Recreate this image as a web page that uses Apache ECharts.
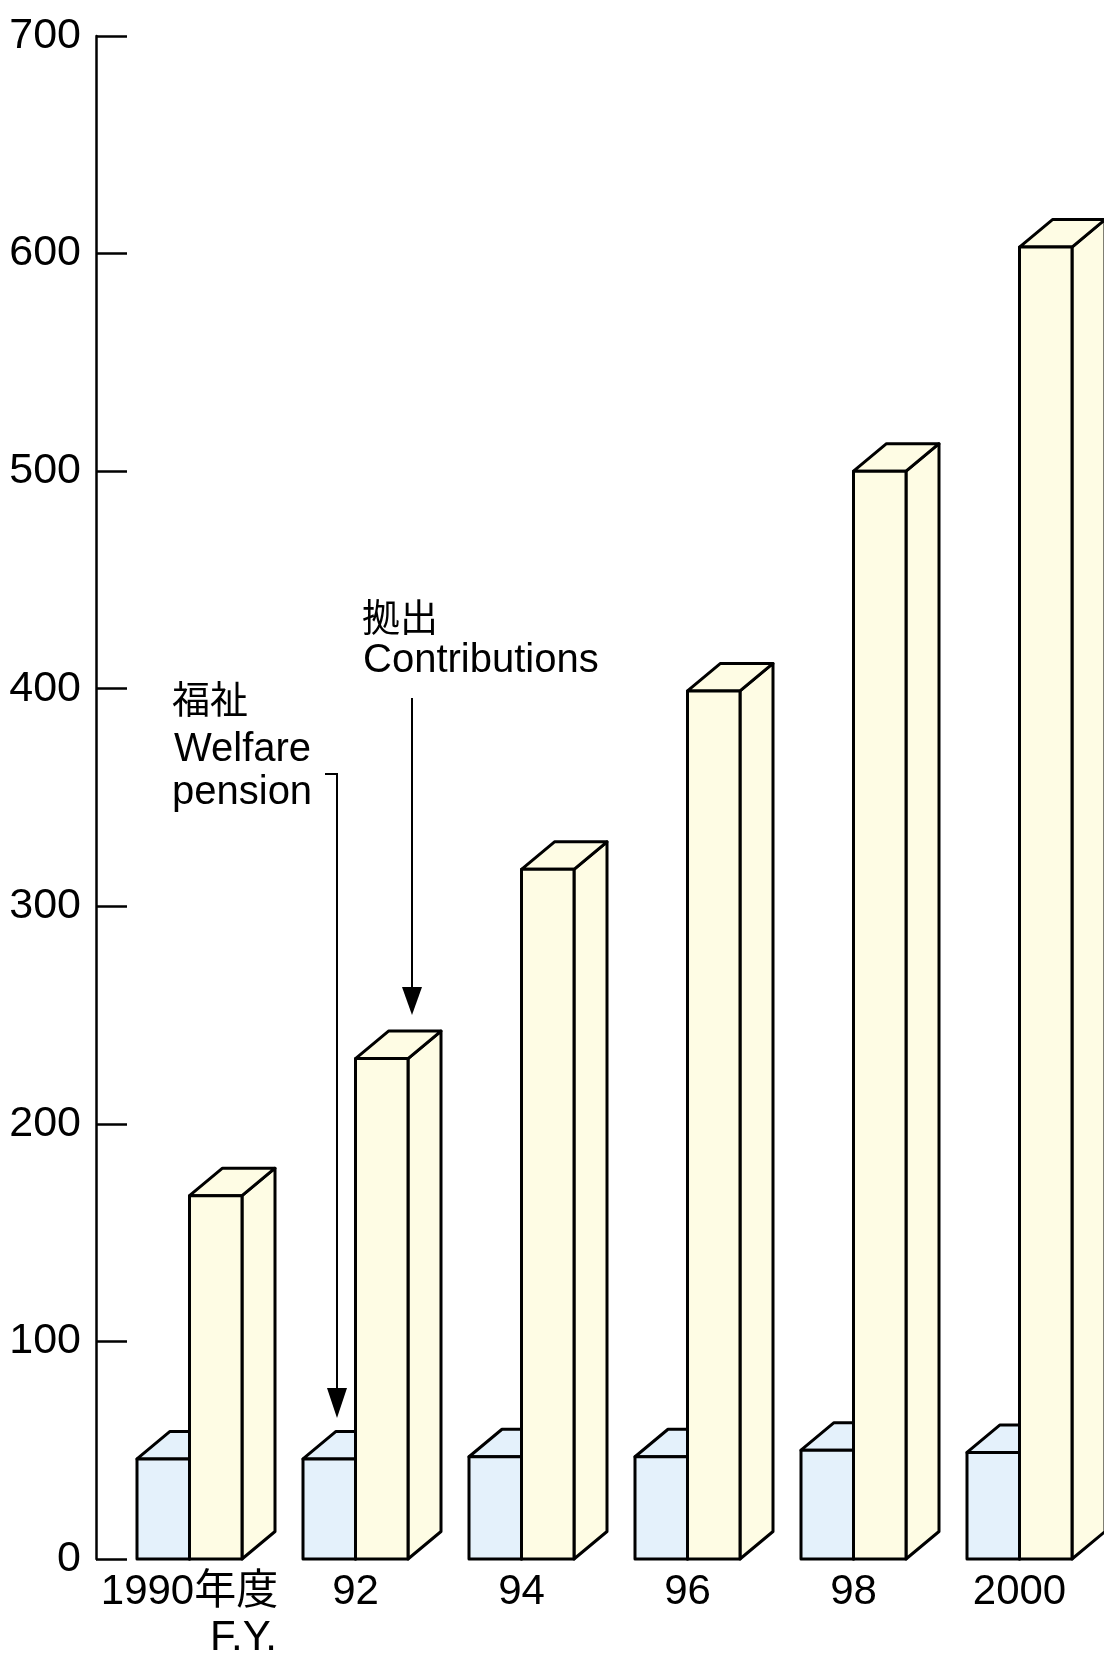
<!DOCTYPE html>
<html>
<head>
<meta charset="utf-8">
<script src="https://cdn.jsdelivr.net/npm/echarts@6/dist/echarts.min.js"></script>
<style>
html,body{margin:0;padding:0;background:#fff;overflow:hidden;}
#chart{width:1104px;height:1655px;}
</style>
</head>
<body>
<div id="chart"></div>
<script>
const categories = ['1990年度', '92', '94', '96', '98', '2000'];
const welfarePension = [46, 46, 47, 47, 50, 49];
const contributions = [167, 230, 317, 399, 500, 603];
const yTicks = [0, 100, 200, 300, 400, 500, 600, 700];

const FONT = "'Liberation Sans','Noto Sans CJK JP',sans-serif";
const CJK = "'Noto Sans CJK JP',sans-serif";

function makeRender(side, color) {
  return function (params, api) {
    const i = api.value(0), v = api.value(1);
    const base = api.coord([i, 0]);
    const top = api.coord([i, v]);
    const cx = base[0];
    const w = 52.5, dx = 33, dy = 27.5;
    const x0 = side === 'left' ? cx - w : cx;
    const x1 = x0 + w;
    const y0 = base[1], y1 = top[1];
    const style = { fill: color, stroke: '#000', lineWidth: 3, lineJoin: 'round' };
    return {
      type: 'group',
      children: [
        { type: 'polygon', shape: { points: [[x1, y0], [x1 + dx, y0 - dy], [x1 + dx, y1 - dy], [x1, y1]] }, style: style },
        { type: 'polygon', shape: { points: [[x0, y1], [x0 + dx, y1 - dy], [x1 + dx, y1 - dy], [x1, y1]] }, style: style },
        { type: 'rect', shape: { x: x0, y: y1, width: w, height: y0 - y1 }, style: style }
      ]
    };
  };
}

const chart = echarts.init(document.getElementById('chart'), null, { renderer: 'canvas' });
chart.setOption({
  animation: false,
  backgroundColor: '#fff',
  grid: { left: 106.5, right: 1.5, top: 36, bottom: 96, containLabel: false, outerBoundsMode: 'none' },
  xAxis: {
    type: 'category',
    data: categories,
    axisLine: { show: false },
    axisTick: { show: false },
    axisLabel: {
      margin: 10,
      fontSize: 42,
      fontFamily: FONT,
      color: '#000',
      interval: 0,
      lineHeight: 46,
      formatter: function (val, idx) {
        return idx === 0 ? val + '\n{fy|F.Y.}' : val;
      },
      rich: {
        fy: { fontSize: 42, fontFamily: FONT, color: '#000', padding: [0, 0, 0, 108], lineHeight: 46 }
      }
    }
  },
  yAxis: {
    type: 'value',
    min: yTicks[0],
    max: yTicks[yTicks.length - 1],
    interval: 100,
    offset: 10.5,
    axisLine: { show: true, lineStyle: { color: '#000', width: 2.5 } },
    axisTick: { show: true, inside: true, length: 31, lineStyle: { color: '#000', width: 2.5 } },
    splitLine: { show: false },
    axisLabel: {
      margin: 15,
      fontSize: 43,
      fontFamily: FONT,
      color: '#000',
      padding: [0, 0, 20, 0]
    }
  },
  series: [
    {
      type: 'custom',
      name: '福祉 Welfare pension',
      renderItem: makeRender('left', '#E4F1FB'),
      data: welfarePension.map((v, i) => [i, v]),
      z: 2
    },
    {
      type: 'custom',
      name: '拠出 Contributions',
      renderItem: makeRender('right', '#FEFCE4'),
      data: contributions.map((v, i) => [i, v]),
      z: 3
    }
  ],
  graphic: [
    { type: 'text', left: 172, top: 680, style: { text: '福祉', font: '38px ' + CJK, fill: '#000' } },
    { type: 'text', left: 174, top: 730, style: { text: 'Welfare', font: '40px ' + FONT, fill: '#000' } },
    { type: 'text', left: 172, top: 773, style: { text: 'pension', font: '40px ' + FONT, fill: '#000' } },
    { type: 'text', left: 362, top: 598, style: { text: '拠出', font: '38px ' + CJK, fill: '#000' } },
    { type: 'text', left: 363, top: 641, style: { text: 'Contributions', font: '40px ' + FONT, fill: '#000' } },
    { type: 'polyline', shape: { points: [[325, 774], [337, 774], [337, 1390]] }, style: { stroke: '#000', lineWidth: 2, fill: null }, z: 10 },
    { type: 'polygon', shape: { points: [[327, 1388], [347, 1388], [337, 1418]] }, style: { fill: '#000' }, z: 10 },
    { type: 'line', shape: { x1: 412, y1: 698, x2: 412, y2: 989 }, style: { stroke: '#000', lineWidth: 2 }, z: 10 },
    { type: 'polygon', shape: { points: [[402, 987], [422, 987], [412, 1015]] }, style: { fill: '#000' }, z: 10 }
  ]
});
</script>
</body>
</html>
